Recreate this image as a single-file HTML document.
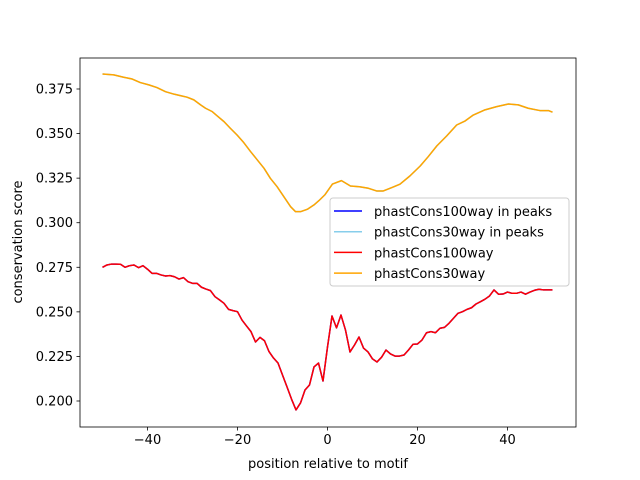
<!DOCTYPE html>
<html><head><meta charset="utf-8"><style>
body{margin:0;background:#fff}
svg{display:block;font-family:"DejaVu Sans","Liberation Sans",sans-serif}
</style></head><body>
<svg id="chart" width="640" height="480" viewBox="0 0 640 480">
<rect x="0" y="0" width="640" height="480" fill="#fff"/>
<g id="plot"></g>
<g id="axes"></g>
<text x="328" y="468" text-anchor="middle" font-size="13">position relative to motif</text>
<text transform="translate(22,242) rotate(-90)" text-anchor="middle" font-size="13">conservation score</text>
<g id="legend"></g>
</svg>
<script>
const redX=[];for(let i=-50;i<=50;i++)redX.push(i);
const red100=[0.2750,0.2763,0.2768,0.2768,0.2767,0.2750,0.2759,0.2763,0.2748,0.2759,0.2739,0.2716,0.2716,0.2707,0.2701,0.2703,0.2697,0.2684,0.2692,0.2669,0.2660,0.2660,0.2638,0.2628,0.2619,0.2585,0.2567,0.2548,0.2514,0.2507,0.2501,0.2454,0.2421,0.2389,0.2331,0.2357,0.2338,0.2277,0.2241,0.2213,0.2146,0.2079,0.2011,0.1950,0.1989,0.2062,0.2090,0.2191,0.2213,0.2112,0.2303,0.2477,0.2410,0.2482,0.2398,0.2275,0.2314,0.2359,0.2297,0.2275,0.2236,0.2219,0.2245,0.2286,0.2264,0.2252,0.2252,0.2258,0.2286,0.2318,0.2320,0.2342,0.2383,0.2389,0.2383,0.2408,0.2413,0.2436,0.2464,0.2492,0.2501,0.2514,0.2523,0.2544,0.2557,0.2571,0.2589,0.2623,0.2599,0.2600,0.2611,0.2604,0.2604,0.2611,0.2599,0.2611,0.2621,0.2627,0.2623,0.2623,0.2623];
const orangeX=[-50,-47.5,-45.3,-43.4,-41.6,-39.7,-37.9,-36,-34.1,-32.7,-31.2,-29.7,-28.2,-27.1,-25.6,-24.5,-23,-21.6,-20.1,-18.6,-17.1,-15.6,-14.1,-12.7,-11.2,-9.7,-8.2,-7.1,-6,-4.5,-3,-1.9,-0.6,1.1,3.1,5.1,7.1,9.1,10.9,12.4,14.3,16.1,18.3,20.6,22.4,24.3,26.5,28.7,30.6,32.4,35,37.6,40.2,42.4,44.6,47.2,49.1,50];
const orange30=[0.3834,0.3829,0.3816,0.3806,0.3786,0.3773,0.3758,0.3735,0.3721,0.3713,0.3704,0.3689,0.3661,0.3642,0.3623,0.3599,0.3567,0.3530,0.3492,0.3449,0.3399,0.3352,0.3305,0.3249,0.3202,0.3146,0.3090,0.3062,0.3062,0.3075,0.3100,0.3124,0.3156,0.3217,0.3236,0.3206,0.3202,0.3193,0.3178,0.3178,0.3197,0.3216,0.3262,0.3318,0.3371,0.3431,0.3487,0.3548,0.3571,0.3604,0.3633,0.3651,0.3666,0.3661,0.3642,0.3629,0.3629,0.3620];
const xTicks=[-40,-20,0,20,40];
const yTicks=[0.200,0.225,0.250,0.275,0.300,0.325,0.350,0.375];
const legendLabels=["phastCons100way in peaks","phastCons30way in peaks","phastCons100way","phastCons30way"];
const legendColors=["#0000ff","#87ceeb","#ff0000","#ffa500"];

const L=80,R=576,T=58,B=427;
const sx=v=>327.5+v*4.5;
const sy=v=>401-(v-0.2)*1782.9;
const NS="http://www.w3.org/2000/svg";
function mk(tag,attrs,parent){const e=document.createElementNS(NS,tag);for(const k in attrs)e.setAttribute(k,attrs[k]);parent.appendChild(e);return e;}
const plot=document.getElementById('plot'),axes=document.getElementById('axes'),leg=document.getElementById('legend');
function path(xs,ys,color,name){
  const d=xs.map((x,i)=>(i?'L':'M')+sx(x).toFixed(2)+','+sy(ys[i]).toFixed(2)).join('');
  const p=mk('path',{d:d,fill:'none',stroke:color,'stroke-width':1.5,'stroke-linejoin':'round'},plot);
  
  
}
path(redX,red100,legendColors[0],'line-phastcons100way-peaks');
path(orangeX,orange30,legendColors[1],'line-phastcons30way-peaks');
path(redX,red100,legendColors[2],'line-phastcons100way');
path(orangeX,orange30,legendColors[3],'line-phastcons30way');
const fr=mk('rect',{x:L,y:T,width:R-L,height:B-T,fill:'none',stroke:'#000','stroke-width':0.8},axes);


xTicks.forEach(t=>{
  const x=sx(t);
  mk('line',{x1:x,x2:x,y1:B,y2:B+3.5,stroke:'#000','stroke-width':0.8},axes);
  const tx=mk('text',{x:x,y:B+17,'text-anchor':'middle','font-size':13},axes);
  tx.textContent=(t<0?'\u2212'+(-t):t);
  
  
});
yTicks.forEach(t=>{
  const y=sy(t);
  mk('line',{x1:L-3.5,x2:L,y1:y,y2:y,stroke:'#000','stroke-width':0.8},axes);
  const tx=mk('text',{x:L-7,y:y+4.5,'text-anchor':'end','font-size':13},axes);
  tx.textContent=t.toFixed(3);
  
  
});
const lb=mk('rect',{x:330,y:198,width:239,height:88,rx:3,fill:'#fff','fill-opacity':0.8,stroke:'#ccc','stroke-width':1},leg);


legendLabels.forEach((lab,i)=>{
  const y=211+i*20.7;
  const g=mk('g',{},leg);
  
  
  mk('line',{x1:334,x2:362,y1:y,y2:y,stroke:legendColors[i],'stroke-width':1.5},g);
  const t=mk('text',{x:374,y:y+5,'font-size':13},g);
  t.textContent=lab;
});
</script>
</body></html>
